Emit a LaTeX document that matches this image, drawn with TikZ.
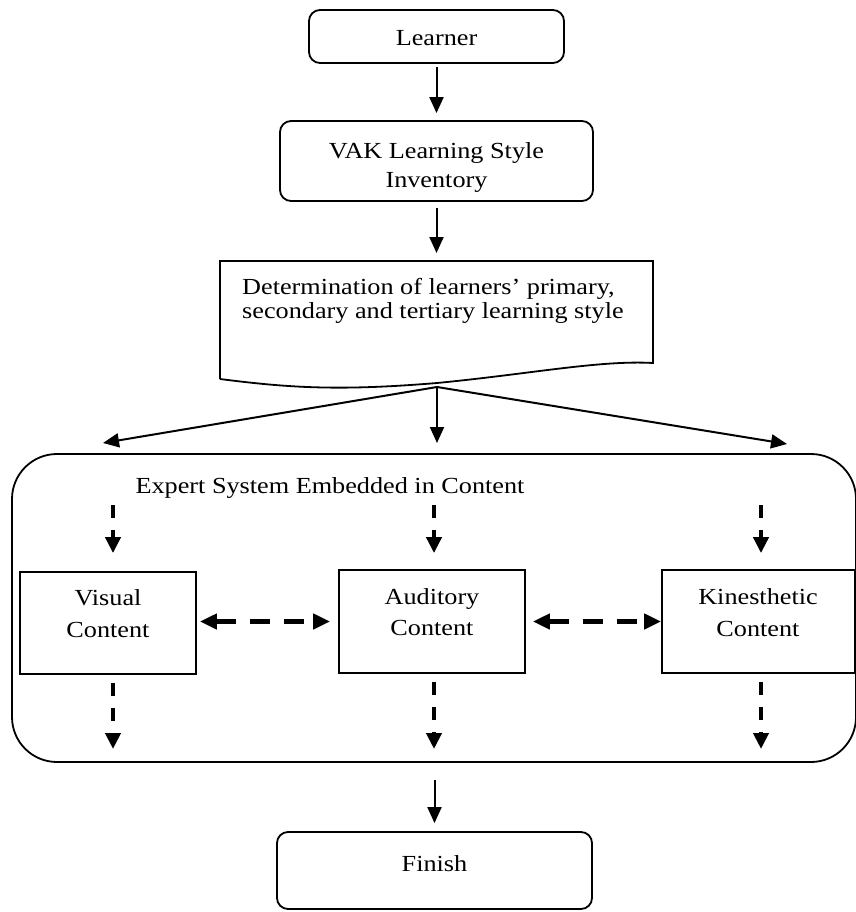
\documentclass[tikz,border=0pt]{standalone}
\usepackage{fontspec}
\setmainfont{Liberation Serif}[FakeStretch=1.14]
\usetikzlibrary{arrows.meta}
\begin{document}
\begin{tikzpicture}[x=1pt,y=-1pt,
  rbox/.style={draw, line width=1.8pt, rounded corners=11pt, inner sep=0pt},
  sbox/.style={draw, line width=1.8pt, inner sep=0pt},
  lbl/.style={font=\fontsize{23}{29}\selectfont, inner sep=0pt, align=center, anchor=base},
  arr/.style={line width=2pt, -{Triangle[length=16pt,width=14pt]}},
  darr/.style={line width=4.5pt, dash pattern=on 13pt off 12pt, -{Triangle[length=16pt,width=15pt]}},
  ddarr/.style={line width=4.5pt, dash pattern=on 20pt off 14pt,
    {Triangle[length=17pt,width=15pt]}-{Triangle[length=17pt,width=15pt]}}]
\useasboundingbox (0,0) rectangle (855,912);

% top of the flow
\node[rbox, minimum width=255pt, minimum height=53pt] (learner) at (436.5,36.5) {};
\node[lbl] at (436.5,46) {Learner};

\node[rbox, minimum width=313pt, minimum height=80pt] (vak) at (436.5,161) {};
\node[lbl] at (436.5,188) {VAK Learning Style\\Inventory};

% document-shaped result box
\node[minimum width=433pt, minimum height=117pt, inner sep=0pt, outer sep=0pt] (det) at (436.5,319.5) {};
\draw[line width=1.8pt] (220,379) -- (220,261) -- (653,261) -- (653,363)
  .. controls (600,360) and (530,374) .. (437,383)
  .. controls (340,391) and (290,388) .. (220,379);
\node[lbl, anchor=base west, align=left, font=\fontsize{23}{24}\selectfont] at (242,318)
  {Determination of learners' primary,\\secondary and tertiary learning style};

\draw[arr, shorten <=3pt, shorten >=7pt] (learner) -- (vak);
\draw[arr, shorten <=6pt, shorten >=8pt] (vak) -- (det.north);

% fan-out to the expert system
\coordinate (split) at (437,387);
\coordinate (tl) at (103,443);
\coordinate (tc) at (437,443);
\coordinate (tr) at (787,444);
\draw[arr] (split) -- (tl);
\draw[arr] (split) -- (tc);
\draw[arr] (split) -- (tr);

% expert system container
\node[draw, line width=1.8pt, rounded corners=45pt, inner sep=0pt,
  minimum width=844pt, minimum height=308pt] (es) at (434,608) {};
\node[lbl] at (330,493) {Expert System Embedded in Content};

\node[sbox, minimum width=176pt, minimum height=102pt] (vis) at (108,623) {};
\node[sbox, minimum width=186pt, minimum height=103pt] (aud) at (432,621.5) {};
\node[sbox, minimum width=193pt, minimum height=103pt] (kin) at (758.5,621.5) {};
\node[lbl, font=\fontsize{23}{32}\selectfont] at (108,637) {Visual\\Content};
\node[lbl, font=\fontsize{23}{31}\selectfont] at (432,635) {Auditory\\Content};
\node[lbl, font=\fontsize{23}{32}\selectfont] at (758,636) {Kinesthetic\\Content};

% dashed entry and exit arrows
\coordinate (vin) at (113,505);
\coordinate (ain) at (434,505);
\coordinate (kin0) at (761,505);
\coordinate (vout) at (113,749);
\coordinate (aout) at (434,749);
\coordinate (kout) at (761,749);
\draw[darr, shorten >=18pt] (vin) -- (vin |- vis.north);
\draw[darr, shorten >=16pt] (ain) -- (ain |- aud.north);
\draw[darr, shorten >=16pt] (kin0) -- (kin0 |- kin.north);
\draw[darr, shorten <=8pt] (vis.south -| vout) -- (vout);
\draw[darr, shorten <=8pt] (aud.south -| aout) -- (aout);
\draw[darr, shorten <=8pt] (kin.south -| kout) -- (kout);

\draw[ddarr, shorten <=3pt, shorten >=8pt] (vis.east |- aud.west) -- (aud.west);
\draw[ddarr, shorten <=7pt] (aud.east) -- (kin.west);

% end of the flow
\node[rbox, minimum width=315pt, minimum height=77pt] (fin) at (434.5,870.5) {};
\node[lbl] at (434.5,871) {Finish};
\draw[arr, shorten <=17pt, shorten >=8pt] (es.south -| fin.north) -- (fin.north);
\end{tikzpicture}
\end{document}
